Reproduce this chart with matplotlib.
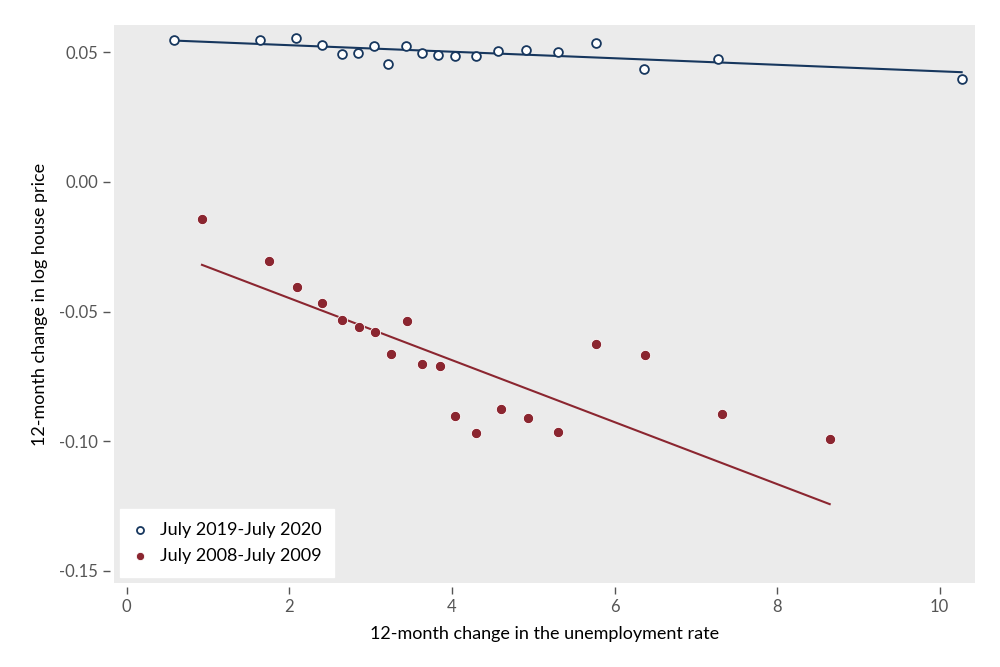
import matplotlib
matplotlib.use("Agg")
import matplotlib.pyplot as plt
import numpy as np

# July 2019-July 2020
x20 = [0.585, 1.643, 2.079, 2.398, 2.648, 2.841, 3.042, 3.214, 3.435, 3.628,
       3.833, 4.042, 4.30, 4.563, 4.908, 5.305, 5.773, 6.363, 7.269, 10.27]
y20 = [0.0547, 0.0546, 0.0556, 0.0527, 0.0495, 0.0496, 0.0525, 0.0455, 0.0524, 0.0496,
       0.0491, 0.0485, 0.0487, 0.0505, 0.0508, 0.0502, 0.0537, 0.0436, 0.0474, 0.0396]
fit20_y = [0.0545, 0.0423]  # fitted line at first / last x

# July 2008-July 2009
x09 = [0.926, 1.747, 2.098, 2.398, 2.645, 2.854, 3.054, 3.247, 3.448, 3.636,
       3.854, 4.042, 4.293, 4.604, 4.94, 5.31, 5.769, 6.375, 7.318, 8.647]
y09 = [-0.0143, -0.0306, -0.0404, -0.0468, -0.0532, -0.0561, -0.0580, -0.0663, -0.0536, -0.0702,
       -0.0710, -0.0903, -0.0969, -0.0877, -0.0910, -0.0964, -0.0626, -0.0666, -0.0895, -0.0993]
fit09_y = [-0.0320, -0.1243]

blue = '#17375e'
red = '#8b2630'

plt.rcParams['font.family'] = ['Lato', 'DejaVu Sans']

fig = plt.figure(figsize=(10, 6.67), dpi=100)
ax = fig.add_axes([0.114, 0.126, 0.861, 0.8365])
ax.set_facecolor('#ebebeb')

# fitted lines
ax.plot([min(x20), max(x20)], fit20_y, color=blue, lw=1.5, zorder=2)
ax.plot([min(x09), max(x09)], fit09_y, color=red, lw=1.5, zorder=2)

ax.scatter(x20, y20, s=40, facecolor='white', edgecolor=blue, linewidth=1.3,
           zorder=3, label='July 2019-July 2020')
ax.scatter(x09, y09, s=55, facecolor=red, edgecolor='white', linewidth=0.6,
           zorder=3, label='July 2008-July 2009')

ax.set_xlim(-0.156, 10.434)
ax.set_ylim(-0.1547, 0.0605)
ax.set_xticks([0, 2, 4, 6, 8, 10])
ax.set_yticks([0.05, 0.0, -0.05, -0.10, -0.15])
ax.set_yticklabels(['0.05', '0.00', '-0.05', '-0.10', '-0.15'])

for s in ax.spines.values():
    s.set_position(('outward', 3))
    s.set_visible(False)
ax.tick_params(colors='#555555', labelsize=12, length=5, width=1)

ax.set_xlabel('12-month change in the unemployment rate', fontsize=13, labelpad=8)
ax.set_ylabel('12-month change in log house price', fontsize=13, labelpad=8)

leg = ax.legend(loc='lower left', frameon=True, fancybox=False, fontsize=13,
                handlelength=0.8, handletextpad=0.7, borderpad=0.7, borderaxespad=0.35,
                labelspacing=0.55, markerscale=0.8)
leg.get_frame().set_facecolor('white')
leg.get_frame().set_edgecolor('white')
leg.get_frame().set_alpha(1)

fig.savefig('out.png', dpi=100)
